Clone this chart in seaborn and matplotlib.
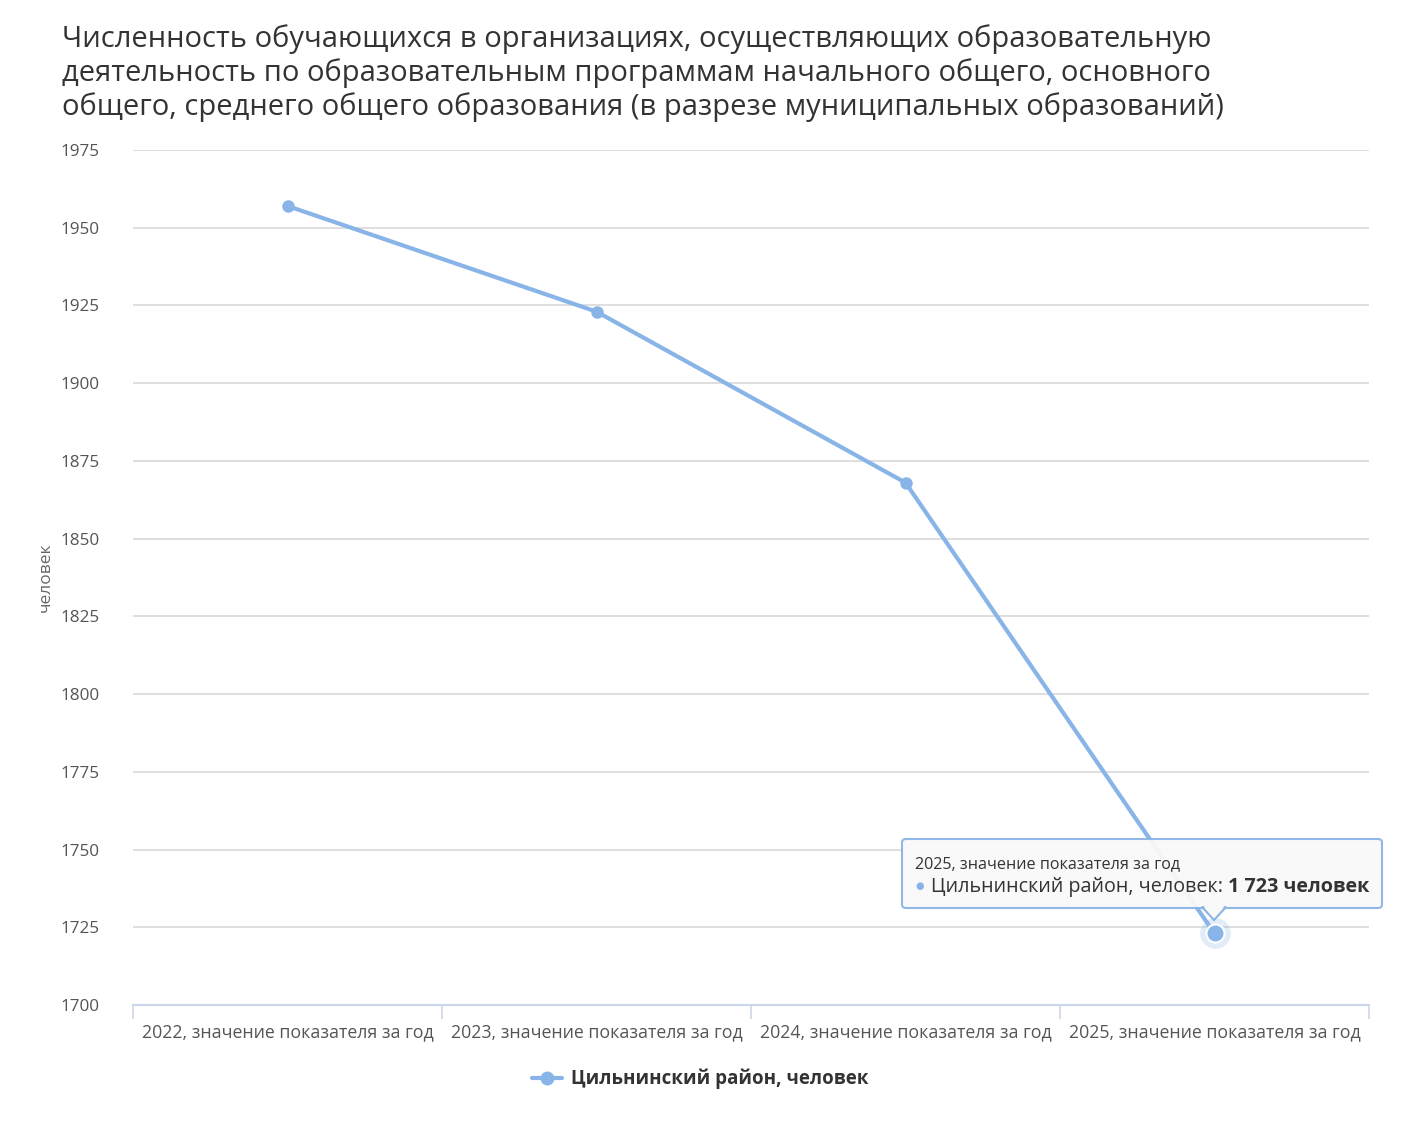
import matplotlib
matplotlib.use("Agg")
import matplotlib.pyplot as plt
import seaborn as sns
import pandas as pd
from matplotlib.patches import FancyBboxPatch, Polygon
from matplotlib.lines import Line2D

# ---- data ----
categories = ["2022, значение показателя за год", "2023, значение показателя за год",
              "2024, значение показателя за год", "2025, значение показателя за год"]
values = [1957, 1923, 1868, 1723]
series_name = "Цильнинский район, человек"
y_ticks = [1700, 1725, 1750, 1775, 1800, 1825, 1850, 1875, 1900, 1925, 1950, 1975]
title = ("Численность обучающихся в организациях, осуществляющих образовательную\n"
         "деятельность по образовательным программам начального общего, основного\n"
         "общего, среднего общего образования (в разрезе муниципальных образований)")
y_label = "человек"
tooltip_head = "2025, значение показателя за год"
tooltip_value = "1 723 человек"

LINE = "#88b4e7"
W, H = 1404, 1128

sns.set_style("white")
plt.rcParams['font.family'] = ['Open Sans', 'DejaVu Sans']

df = pd.DataFrame({"cat": categories, "val": values, "idx": range(len(categories))})

fig = plt.figure(figsize=(W / 100, H / 100), dpi=100)
ax = fig.add_axes([133 / W, 1 - 1005 / H, (1369 - 133) / W, (1005 - 150) / H])

sns.lineplot(data=df, x="idx", y="val", ax=ax, color=LINE, linewidth=3,
             marker="o", markersize=9, markeredgewidth=0, legend=False)
# highlighted last point
ax.plot([df["idx"].iloc[-1]], [df["val"].iloc[-1]], "o", color=LINE, markersize=22,
        alpha=0.25, markeredgewidth=0, zorder=4)
ax.plot([df["idx"].iloc[-1]], [df["val"].iloc[-1]], "o", color=LINE, markersize=13,
        markeredgecolor="white", markeredgewidth=1.5, zorder=5)

ax.set_xlim(-0.5, len(categories) - 0.5)
ax.set_ylim(y_ticks[0], y_ticks[-1])
ax.set_yticks(y_ticks)
ax.set_yticklabels([str(t) for t in y_ticks])
ax.yaxis.grid(True, color="#d9d9d9", linewidth=1.2)
ax.set_axisbelow(True)

# x ticks at category boundaries, labels at centers
ax.set_xticks([i - 0.5 for i in range(len(categories) + 1)])
ax.set_xticklabels([])
ax.tick_params(axis="x", which="major", bottom=True, direction="out", length=10,
               color="#ccd6eb", width=1.2)
ax.set_xticks(range(len(categories)), minor=True)
ax.set_xticklabels(categories, minor=True, fontsize=12.8, color="#555555")
ax.tick_params(axis="x", which="minor", bottom=True, length=0, pad=13)
ax.tick_params(axis="y", length=0, labelsize=12.3, labelcolor="#555555", pad=24)

for s in ["top", "right", "left"]:
    ax.spines[s].set_visible(False)
ax.spines["bottom"].set_color("#ccd6eb")
ax.spines["bottom"].set_linewidth(1.5)

ax.set_xlabel("")
ax.set_ylabel(y_label, fontsize=12.5, color="#666666", labelpad=5)

fig.text(62 / W, 1 - 24 / H, title, fontsize=21, color="#333333", va="top", ha="left",
         linespacing=1.18)

# legend
handle = Line2D([0], [0], color=LINE, linewidth=3, marker="o", markersize=9)
fig.legend([handle], [series_name], loc="center", bbox_to_anchor=(700 / W, 1 - 1079 / H),
           frameon=False, handlelength=1.6, handletextpad=0.5,
           prop={"weight": "bold", "size": 13.5}, labelcolor="#333333")

# tooltip
bx0, by0, bx1, by1 = 902, 839, 1382, 908
box = FancyBboxPatch((bx0 / W, 1 - by1 / H), (bx1 - bx0) / W, (by1 - by0) / H,
                     boxstyle="round,pad=0,rounding_size=0.003", transform=fig.transFigure,
                     facecolor="#f9f9f9", edgecolor="#8ab4e6", linewidth=1.5, alpha=0.95,
                     zorder=10)
fig.patches.append(box)
tri = Polygon([((1202) / W, 1 - (by1 - 1) / H), (1214 / W, 1 - 920 / H), (1226 / W, 1 - (by1 - 1) / H)],
              closed=True, transform=fig.transFigure, facecolor="#f9f9f9", edgecolor="#8ab4e6",
              linewidth=1.5, zorder=10)
fig.patches.append(tri)
fig.patches.append(Polygon([((1203) / W, 1 - (by1 - 2.5) / H), (1214 / W, 1 - 918 / H), (1225 / W, 1 - (by1 - 2.5) / H)],
                           closed=True, transform=fig.transFigure, facecolor="#f9f9f9",
                           edgecolor="none", zorder=11))
fig.text(915 / W, 1 - 864 / H, tooltip_head, fontsize=11.6, color="#333333", va="center",
         zorder=12)
fig.text(915 / W, 1 - 887 / H, "●", fontsize=7, color=LINE, va="center", zorder=12)
t1 = fig.text(931 / W, 1 - 887 / H, series_name + ": ", fontsize=14.2, color="#333333",
              va="center", zorder=12)
fig.canvas.draw()
bb = t1.get_window_extent()
fig.text(bb.x1 / W, 1 - 887 / H, tooltip_value, fontsize=14.2, color="#333333",
         va="center", weight="bold", zorder=12)

fig.savefig("out.png", dpi=100, facecolor="white")
